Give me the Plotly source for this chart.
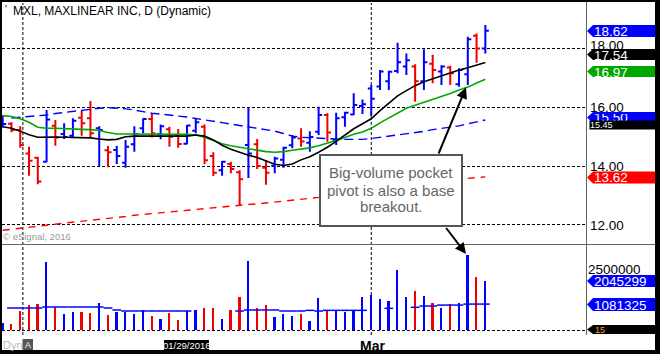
import plotly.graph_objects as go

W, H = 660, 354
def px(x): return x / W
def py(y): return 1 - y / H

# ---------------- data ----------------
bars = list(range(56))
direction = ["U","D","D","D","D","U","D","U","U","D",
             "D","U","D","U","U","U","U","D","U","D",
             "D","U","U","D","D","U","D","D","U","D",
             "D","U","U","U","D","U","U","D","U","U",
             "U","U","U","U","U","U","U","D","U","D",
             "U","D","U","U","D","U"]
opens = [15.65,15.45,15.24,14.44,14.29,14.16,15.38,15.10,15.04,15.66,
         15.64,15.30,14.55,14.56,14.12,14.75,15.30,15.61,15.09,15.26,
         15.07,14.77,15.21,15.35,14.35,13.87,14.08,13.80,14.73,14.75,
         13.95,14.02,14.22,14.72,14.95,14.80,15.18,15.75,14.90,15.67,
         15.77,16.06,16.65,16.72,16.90,17.25,17.40,17.40,16.90,17.50,
         17.23,17.37,16.80,17.14,18.45,18.02]
highs = [15.73,15.50,15.37,14.67,14.33,15.92,15.58,15.47,15.64,15.89,
         16.23,15.37,14.69,14.69,14.90,15.37,15.64,15.81,15.43,15.35,
         15.27,15.41,15.61,15.43,14.48,14.18,14.16,13.87,16.01,14.93,
         14.20,14.33,14.67,15.07,15.30,15.20,16.03,15.81,15.83,15.86,
         16.49,16.28,16.77,17.28,17.26,18.21,17.85,17.48,17.99,17.80,
         17.45,17.43,17.34,18.42,18.53,18.82]
lows = [15.32,15.16,14.63,13.68,13.39,14.14,14.70,14.93,14.96,15.04,
        14.98,14.00,13.97,14.08,13.95,14.50,15.13,14.98,14.92,14.67,
        14.63,14.75,15.13,14.07,13.67,13.68,13.76,12.65,13.60,13.91,
        13.37,13.76,13.95,14.62,14.67,14.50,15.07,14.84,14.73,15.35,
        15.75,15.78,15.70,16.60,16.60,17.17,17.11,16.20,16.60,16.83,
        16.77,16.77,16.71,16.77,17.53,17.85]
closes = [15.44,15.24,14.73,14.19,13.48,15.60,14.98,15.00,15.55,15.47,
          15.13,15.24,14.48,14.35,14.67,15.09,15.61,15.13,15.37,15.01,
          14.76,15.39,15.50,14.21,13.78,14.16,13.91,13.56,14.44,14.01,
          13.78,14.27,14.63,14.98,14.85,15.00,15.75,15.15,15.64,15.83,
          16.09,16.12,16.30,17.23,17.22,17.55,17.62,16.90,17.55,17.28,
          17.40,17.17,17.28,18.33,18.02,18.62]
ma_black = [15.35,15.30,15.20,15.08,14.99,15.00,15.00,14.99,14.98,14.98,
            14.97,14.93,14.90,14.92,15.01,15.03,15.03,15.03,15.03,15.02,
            15.02,15.03,15.07,15.03,14.90,14.72,14.58,14.47,14.38,14.30,
            14.18,14.07,14.03,14.08,14.22,14.33,14.48,14.65,14.85,15.07,
            15.28,15.45,15.62,15.90,16.15,16.40,16.58,16.75,16.88,16.98,
            17.10,17.19,17.28,17.36,17.45,17.54]
ma_green = [15.73,15.70,15.62,15.50,15.33,15.30,15.30,15.28,15.27,15.26,
            15.25,15.22,15.15,15.10,15.10,15.10,15.09,15.09,15.09,15.09,
            15.09,15.09,15.07,14.99,14.88,14.77,14.70,14.65,14.60,14.53,
            14.50,14.48,14.50,14.55,14.59,14.63,14.70,14.78,14.88,14.98,
            15.09,15.17,15.30,15.48,15.65,15.82,15.98,16.08,16.18,16.27,
            16.37,16.48,16.60,16.70,16.84,16.97]
ma_blue = [None,15.65,15.67,15.69,15.72,15.75,15.80,15.84,15.88,15.92,
           15.95,15.98,16.00,15.99,15.96,15.92,15.86,15.81,15.78,15.75,
           15.72,15.68,15.63,15.59,15.55,15.49,15.44,15.39,15.34,15.29,
           15.25,15.20,15.12,15.03,14.99,14.97,14.95,14.94,14.93,14.92,
           14.92,14.92,14.95,14.99,15.03,15.06,15.10,15.14,15.19,15.25,
           15.29,15.33,15.38,15.45,15.52,15.58]
ma_red = [11.82,11.85,11.89,11.92,11.96,11.99,12.03,12.06,12.10,12.13,
          12.16,12.19,12.23,12.26,12.29,12.33,12.36,12.39,12.42,12.45,
          12.48,12.51,12.54,12.57,12.60,12.62,12.65,12.67,12.70,12.72,
          12.75,12.77,12.80,12.83,12.87,12.90,12.94,12.98,13.02,13.06,
          13.10,13.13,13.17,13.21,13.25,13.29,13.33,13.37,13.41,13.45,
          13.48,13.52,13.56,13.59,13.62,13.64]
volume = [292000,250000,779000,1057000,1100000,2850000,960000,682000,765000,765000,
          723000,1140000,640000,765000,765000,682000,835000,598000,473000,723000,
          431000,793000,849000,932000,932000,473000,849000,1390000,2890000,904000,
          1057000,556000,682000,598000,675000,390000,1350000,793000,835000,751000,
          835000,1380000,1460000,1290000,1210000,2500000,1380000,1630000,1420000,1130000,
          918000,1085000,1130000,3130000,2210000,2045299]
vol_ma = [None,918000,918000,918000,918000,960000,960000,960000,960000,960000,
          960000,960000,918000,835000,793000,793000,793000,793000,793000,793000,
          793000,793000,None,None,None,None,None,793000,835000,835000,
          835000,835000,793000,793000,793000,820000,793000,820000,820000,820000,
          820000,820000,None,None,904000,None,None,946000,1000000,1000000,
          1040000,1040000,1040000,1081325,1081325,1081325]
month_lines = [2.3, 42]          # year boundary, Mar 1
price_ticks = [12, 14, 16, 18]
price_tick_text = ["12.00", "14.00", "16.00", "18.00"]
price_tick_shift = [0, 0, 1, 4]

BLUE = "#0000ff"
RED = "#ee0000"
GREEN = "#00a800"
FONT = "Liberation Sans, Arial, sans-serif"

fig = go.Figure()

# price bars
for d, col in (("U", BLUE), ("D", RED)):
    sel = [i for i in bars if direction[i] == d]
    fig.add_trace(go.Ohlc(
        x=sel, open=[opens[i] for i in sel], high=[highs[i] for i in sel],
        low=[lows[i] for i in sel], close=[closes[i] for i in sel],
        increasing_line_color=col, decreasing_line_color=col,
        line_width=2, tickwidth=0.4, xaxis="x", yaxis="y",
        showlegend=False, hoverinfo="skip"))

fig.add_trace(go.Scatter(x=bars, y=ma_red, mode="lines",
                         line=dict(color="#ff0000", width=1.4, dash="7px,6px"),
                         xaxis="x", yaxis="y", showlegend=False, hoverinfo="skip"))
fig.add_trace(go.Scatter(x=bars, y=ma_blue, mode="lines",
                         line=dict(color=BLUE, width=1.4, dash="9px,5px"),
                         xaxis="x", yaxis="y", showlegend=False, hoverinfo="skip"))
fig.add_trace(go.Scatter(x=bars, y=ma_green, mode="lines",
                         line=dict(color=GREEN, width=1.6),
                         xaxis="x", yaxis="y", showlegend=False, hoverinfo="skip"))
fig.add_trace(go.Scatter(x=bars, y=ma_black, mode="lines",
                         line=dict(color="black", width=1.6),
                         xaxis="x", yaxis="y", showlegend=False, hoverinfo="skip"))

# volume
fig.add_trace(go.Bar(x=bars, y=volume, width=0.2,
                     marker=dict(color=[BLUE if d == "U" else RED for d in direction],
                                 line_width=0),
                     xaxis="x2", yaxis="y2", showlegend=False, hoverinfo="skip"))
vx, vy = [], []
for i, v in zip(bars, vol_ma):
    if v is None:
        continue
    vx += [i - 0.5, i + 0.5, None]
    vy += [v, v, None]
fig.add_trace(go.Scatter(x=vx, y=vy, mode="lines", line=dict(color=BLUE, width=1.5),
                         xaxis="x2", yaxis="y2", showlegend=False, hoverinfo="skip"))

# ---------------- axes ----------------
x_range = [-0.08, 66.47]
dash = "3px,2px"
fig.update_layout(
    width=W, height=H, margin=dict(l=0, r=0, t=0, b=0),
    paper_bgcolor="white", plot_bgcolor="white", bargap=0,
    xaxis=dict(domain=[px(2), px(586)], range=x_range, showgrid=False, zeroline=False,
               showticklabels=False, ticks="", rangeslider=dict(visible=False),
               anchor="y", fixedrange=True),
    yaxis=dict(domain=[py(243), py(3)], range=[11.386, 19.568], tickvals=price_ticks,
               showgrid=True, gridcolor="black", gridwidth=1, griddash=dash,
               showticklabels=False, zeroline=False, ticks="", anchor="x"),
    xaxis2=dict(domain=[px(2), px(586)], range=x_range, showgrid=False, zeroline=False,
                showticklabels=False, ticks="", anchor="y2"),
    yaxis2=dict(domain=[py(335), py(244)], range=[-208700, 3589300], tickvals=[0],
                showgrid=True, gridcolor="black", gridwidth=1, griddash=dash,
                showticklabels=False, zeroline=False, ticks="", anchor="x2"),
)

shapes = []
for m in month_lines:
    shapes.append(dict(type="line", xref="x", yref="paper", x0=m, x1=m,
                       y0=py(335), y1=py(3), line=dict(color="black", width=1, dash=dash),
                       layer="below"))
# frame lines
shapes.append(dict(type="line", xref="paper", yref="paper", x0=px(586.5), x1=px(586.5),
                   y0=py(335), y1=py(0), line=dict(color="#666", width=1)))
shapes.append(dict(type="line", xref="paper", yref="paper", x0=0, x1=px(656),
                   y0=py(244.5), y1=py(244.5), line=dict(color="#666", width=1)))

# value label boxes
def label_box(y0, y1, color):
    yc = (y0 + y1) / 2
    path = (f"M {px(587)},{py(yc)} L {px(593)},{py(y0)} L {px(656)},{py(y0)} "
            f"L {px(656)},{py(y1)} L {px(593)},{py(y1)} Z")
    return dict(type="path", xref="paper", yref="paper", path=path,
                fillcolor=color, line=dict(width=0))

boxes = [(25, 37, BLUE, "18.62"),
         (49, 60, "black", "17.54"),
         (66, 77, GREEN, "16.97"),
         (112, 123, BLUE, "15.50"),
         (171.5, 183.5, "#ff0000", "13.62"),
         (275, 287, BLUE, "2045299"),
         (298, 311, BLUE, "1081325")]
for y0, y1, c, t in boxes:
    shapes.append(label_box(y0, y1, c))
shapes.append(label_box(325, 334, "black"))

# callout box
shapes.append(dict(type="rect", xref="paper", yref="paper", x0=px(320), x1=px(462),
                   y0=py(226), y1=py(155), fillcolor="white",
                   line=dict(color="#555", width=2)))
# icon at bottom left and date cursor box
shapes.append(dict(type="rect", xref="paper", yref="paper", x0=px(22.5), x1=px(33),
                   y0=py(350), y1=py(339), fillcolor="#555", line=dict(width=0)))
shapes.append(dict(type="rect", xref="paper", yref="paper", x0=px(164), x1=px(209),
                   y0=py(351), y1=py(340), fillcolor="black", line=dict(width=0)))
# black border
for x0, x1, y0, y1 in ((0, 660, 0, 2), (0, 2, 0, 354), (655, 660, 0, 354), (0, 660, 350, 354)):
    shapes.append(dict(type="rect", xref="paper", yref="paper", x0=px(x0), x1=px(x1),
                       y0=py(y1), y1=py(y0), fillcolor="black", line=dict(width=0)))
fig.update_layout(shapes=shapes)

ann = []
def txt(x, y, text, size=13.5, color="black", anchor="left", h=None, **kw):
    d = dict(x=px(x), y=py(y), xref="paper", yref="paper", text=text,
             showarrow=False, xanchor=anchor, yanchor="middle",
             font=dict(family=FONT, size=size, color=color), **kw)
    if h is not None:
        d.update(height=h, borderpad=0)
    ann.append(d)

# tick labels (clipped to tight boxes like the original)
for v, t, s in zip(price_ticks, price_tick_text, price_tick_shift):
    ann.append(dict(x=px(589), y=v, xref="paper", yref="y", text=t, showarrow=False,
                    xanchor="left", yanchor="middle", yshift=s, height=10, borderpad=0,
                    font=dict(family=FONT, size=13.5, color="black")))
txt(587, 269, "2500000", h=10)
for y0, y1, c, t in boxes:
    yc = (y0 + y1) / 2
    if t == "15.50":
        txt(593, 117.5, t, color="white", h=7)
    else:
        txt(593, yc, t, color="white", h=y1 - y0 - 1)
# small overlapping black label
ann.append(dict(x=px(589), y=py(125), xref="paper", yref="paper", text="15.45",
                showarrow=False, xanchor="left", yanchor="middle", bgcolor="black",
                width=66, height=8, align="left", borderpad=0,
                font=dict(family=FONT, size=9, color="white")))
txt(594, 329.5, "15", size=9, color="#ff9a30", h=8)

# title etc.
txt(3, 10, "'", size=10)
txt(11, 11.5, "MXL, MAXLINEAR INC, D (Dynamic)", size=12)
txt(1, 236.5, "© eSignal, 2016", size=9.5, color="#999")
txt(1, 345, "Dyn", size=11, color="#bbb")
txt(27.7, 344.5, "A", size=9, color="white", anchor="center")
txt(186.5, 345.5, "01/29/2016", size=9.5, color="white", anchor="center")
txt(372, 346, "<b>Mar</b>", size=14, anchor="center")

# callout text
for y, t in ((172.7, "Big-volume pocket"), (190, "pivot is also a base"), (206.7, "breakout.")):
    txt(391, y, t, size=15, color="#666", anchor="center")

# arrows
for hx, hy, tx, ty in ((466, 87.5, 438, 155), (466, 254, 445, 226.5)):
    ann.append(dict(x=px(hx), y=py(hy), xref="paper", yref="paper", text="",
                    showarrow=True, ax=tx - hx, ay=ty - hy, axref="pixel", ayref="pixel",
                    arrowhead=2, arrowsize=1.1, arrowwidth=2, arrowcolor="black",
                    standoff=0, startstandoff=0))
fig.update_layout(annotations=ann)

fig.write_html("out.html")
